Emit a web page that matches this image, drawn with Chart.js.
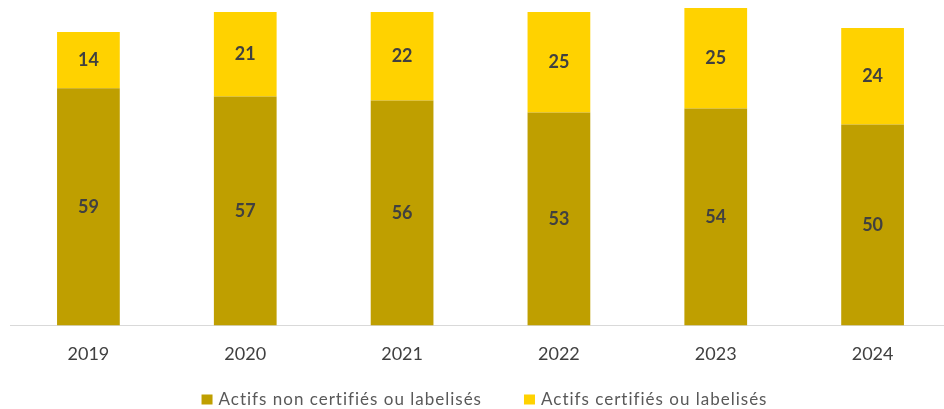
<!DOCTYPE html>
<html>
<head>
<meta charset="utf-8">
<script src="https://cdn.jsdelivr.net/npm/chart.js@4/dist/chart.umd.min.js"></script>
<style>
  html, body { margin: 0; padding: 0; background: #fff; overflow: hidden; }
  #wrap { position: relative; width: 966px; height: 409px; }
</style>
</head>
<body>
<div id="wrap"><canvas id="c"></canvas></div>
<script>
const years = ['2019', '2020', '2021', '2022', '2023', '2024'];
const nonCertifies = [59, 57, 56, 53, 54, 50];
const certifies = [14, 21, 22, 25, 25, 24];
const seriesNames = ['Actifs non certifiés ou labelisés', 'Actifs certifiés ou labelisés'];

const FONT = 'Lato, "Open Sans", sans-serif';

// Writes each segment's value in the middle of its bar
const valueLabels = {
  id: 'valueLabels',
  afterDatasetsDraw(chart) {
    const ctx = chart.ctx;
    ctx.save();
    ctx.font = 'bold 18px ' + FONT;
    ctx.fillStyle = '#404040';
    ctx.textAlign = 'center';
    ctx.textBaseline = 'middle';
    chart.data.datasets.forEach((ds, i) => {
      chart.getDatasetMeta(i).data.forEach((bar, j) => {
        const p = bar.getProps(['x', 'y', 'base'], true);
        ctx.fillText(String(ds.data[j]), p.x, (p.y + p.base) / 2);
      });
    });
    ctx.restore();
  }
};

// Legend row under the axis: square swatch followed by the series name
const bottomLegend = {
  id: 'bottomLegend',
  afterDraw(chart) {
    const ctx = chart.ctx;
    ctx.save();
    ctx.font = '17px ' + FONT;
    ctx.letterSpacing = '1px';
    ctx.textBaseline = 'middle';
    ctx.textAlign = 'left';
    const box = 11, gapBox = 6, gapItem = 42, cy = 399.5;
    const items = chart.data.datasets.map(ds => ({
      label: ds.label, color: ds.backgroundColor,
      w: ctx.measureText(ds.label).width
    }));
    const total = items.reduce((s, it) => s + box + gapBox + it.w, 0) + gapItem * (items.length - 1);
    let x = 484.5 - total / 2;
    items.forEach(it => {
      ctx.fillStyle = it.color;
      ctx.fillRect(x, cy - 5, box, 10);
      x += box + gapBox;
      ctx.fillStyle = '#595959';
      ctx.fillText(it.label, x, cy);
      x += it.w + gapItem;
    });
    ctx.restore();
  }
};

new Chart(document.getElementById('c'), {
  type: 'bar',
  data: {
    labels: years,
    datasets: [
      { label: seriesNames[0], data: nonCertifies, backgroundColor: '#BF9F00' },
      { label: seriesNames[1], data: certifies, backgroundColor: '#FFD200' }
    ]
  },
  options: {
    responsive: true,
    maintainAspectRatio: false,
    animation: false,
    layout: { padding: { left: 10, right: 15, top: 4, bottom: 26 } },
    datasets: { bar: { barPercentage: 0.4, categoryPercentage: 1.0 } },
    scales: {
      x: {
        stacked: true,
        grid: { display: false, drawTicks: false },
        border: { color: '#d9d9d9', width: 1 },
        ticks: { color: '#404040', font: { family: FONT, size: 18 }, padding: 18 }
      },
      y: {
        stacked: true,
        display: false,
        min: 0,
        max: 80
      }
    },
    plugins: {
      legend: { display: false },
      tooltip: { enabled: false }
    }
  },
  plugins: [valueLabels, bottomLegend]
});
</script>
</body>
</html>
